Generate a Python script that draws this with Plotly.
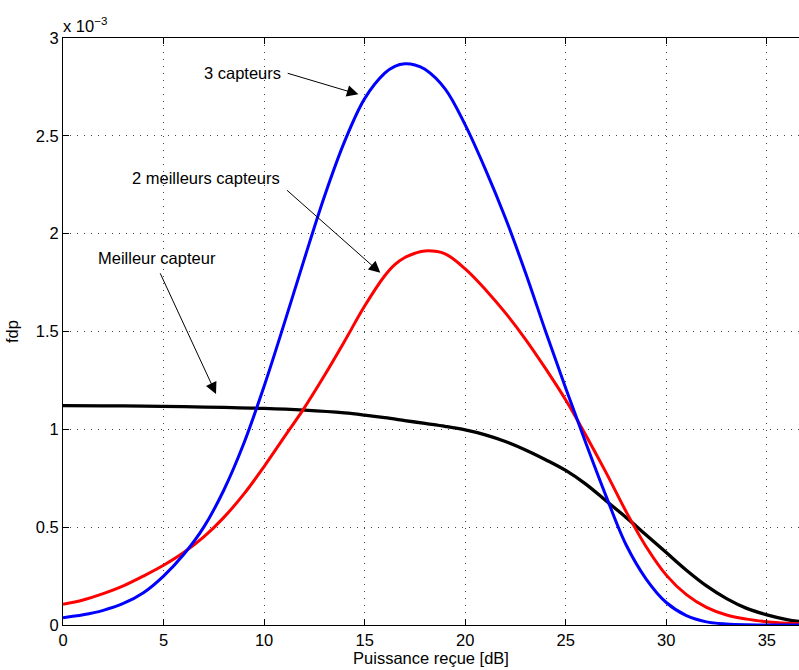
import plotly.graph_objects as go

# Received power [dB]
x_blue = [0, 1, 2, 3, 4, 5, 6, 7, 8, 9, 10, 11, 12, 13, 14, 15, 16, 16.5, 17, 17.5, 18, 19,
          20, 21, 22, 23, 24, 25, 26, 27, 28, 29, 30, 31, 32, 33, 34, 35, 36.6]
# pdf values in units of 1e-3
y_blue = [0.037, 0.052, 0.075, 0.11, 0.165, 0.25, 0.36, 0.50, 0.69, 0.93, 1.22, 1.54, 1.87,
          2.19, 2.47, 2.69, 2.82, 2.855, 2.868, 2.862, 2.84, 2.74, 2.556, 2.33, 2.08, 1.80,
          1.50, 1.21, 0.93, 0.66, 0.41, 0.235, 0.115, 0.048, 0.016, 0.005, 0.001, 0.0, 0.0]

x_red = [0, 1, 2, 3, 4, 5, 6, 7, 8, 9, 10, 11, 12, 13, 14, 15, 16, 16.5, 17, 17.5, 18, 19,
         20, 21, 22, 23, 24, 25, 26, 27, 28, 29, 30, 31, 32, 33, 34, 35, 36, 36.6]
y_red = [0.106, 0.128, 0.16, 0.20, 0.25, 0.305, 0.37, 0.45, 0.55, 0.67, 0.81, 0.96, 1.11,
         1.275, 1.45, 1.63, 1.785, 1.842, 1.878, 1.90, 1.912, 1.897, 1.82, 1.715, 1.595, 1.46,
         1.31, 1.15, 0.97, 0.78, 0.58, 0.40, 0.255, 0.155, 0.09, 0.051, 0.03, 0.017, 0.009,
         0.006]

x_black = [0, 2, 4, 6, 8, 10, 12, 14, 15, 16, 17, 18, 19, 20, 21, 22, 23, 24, 25, 26,
           27, 28, 29, 30, 31, 32, 33, 34, 35, 36, 36.6]
y_black = [1.121, 1.12, 1.119, 1.116, 1.112, 1.107, 1.098, 1.084, 1.073, 1.06, 1.045,
           1.03, 1.015, 0.997, 0.972, 0.938, 0.895, 0.845, 0.79, 0.72, 0.635, 0.55, 0.46,
           0.37, 0.28, 0.20, 0.135, 0.085, 0.052, 0.028, 0.018]

x_ticks = [0, 5, 10, 15, 20, 25, 30, 35]
y_ticks = [0, 0.5, 1, 1.5, 2, 2.5, 3]
y_tick_text = ["0", "0.5", "1", "1.5", "2", "2.5", "3"]

FONT = "Liberation Sans, Arial, Helvetica, sans-serif"
FS = 16.5

fig = go.Figure()
for xs, ys, col, name, w in [(x_black, y_black, "#000000", "Meilleur capteur", 3.3),
                             (x_red, y_red, "#ff0000", "2 meilleurs capteurs", 3),
                             (x_blue, y_blue, "#0000ff", "3 capteurs", 3)]:
    fig.add_trace(go.Scatter(x=xs, y=ys, mode="lines", name=name,
                             line=dict(color=col, width=w, shape="spline", smoothing=1.0)))

# Labels with arrows (text; arrow tail -> head in data coords)
labels = [
    ("3 capteurs", 8.95, 2.822, 11.1, 2.822, 14.69, 2.712),
    ("2 meilleurs capteurs", 7.13, 2.287, 11.06, 2.229, 15.78, 1.80),
    ("Meilleur capteur", 4.68, 1.875, 4.80, 1.805, 7.61, 1.181),
]
for txt, tx, ty, ax0, ay0, hx, hy in labels:
    fig.add_annotation(x=tx, y=ty, text=txt, showarrow=False,
                       font=dict(family=FONT, size=FS, color="#000"))
    fig.add_annotation(x=hx, y=hy, ax=ax0, ay=ay0, axref="x", ayref="y", text="",
                       showarrow=True, arrowhead=2, arrowsize=2.3, arrowwidth=1,
                       arrowcolor="#000")

fig.add_annotation(xref="paper", yref="paper", x=0, y=1, xanchor="left", yanchor="bottom",
                   text="x 10<sup>−3</sup>", showarrow=False, yshift=1, xshift=-2,
                   font=dict(family=FONT, size=FS, color="#000"))

grid_common = dict(showgrid=True, gridcolor="#444", griddash="1px,6px", gridwidth=1,
                   zeroline=False, ticks="inside", ticklen=6, tickcolor="#000",
                   showline=True, linecolor="#000", linewidth=1,
                   tickfont=dict(family=FONT, size=FS, color="#000"))

fig.update_layout(
    width=799, height=670,
    margin=dict(l=63, r=0, t=38, b=45),
    paper_bgcolor="white", plot_bgcolor="white",
    showlegend=False,
    font=dict(family=FONT, size=FS, color="#000"),
    xaxis=dict(range=[0, 36.6], tickvals=x_ticks, mirror="ticks",
               title=dict(text="Puissance reçue [dB]", standoff=1,
                          font=dict(family=FONT, size=FS)),
               **grid_common),
    yaxis=dict(range=[0, 3], tickvals=y_ticks, ticktext=y_tick_text, mirror=False,
               title=dict(text="fdp", standoff=12, font=dict(family=FONT, size=FS)),
               **grid_common),
)

fig.write_html("out.html")
